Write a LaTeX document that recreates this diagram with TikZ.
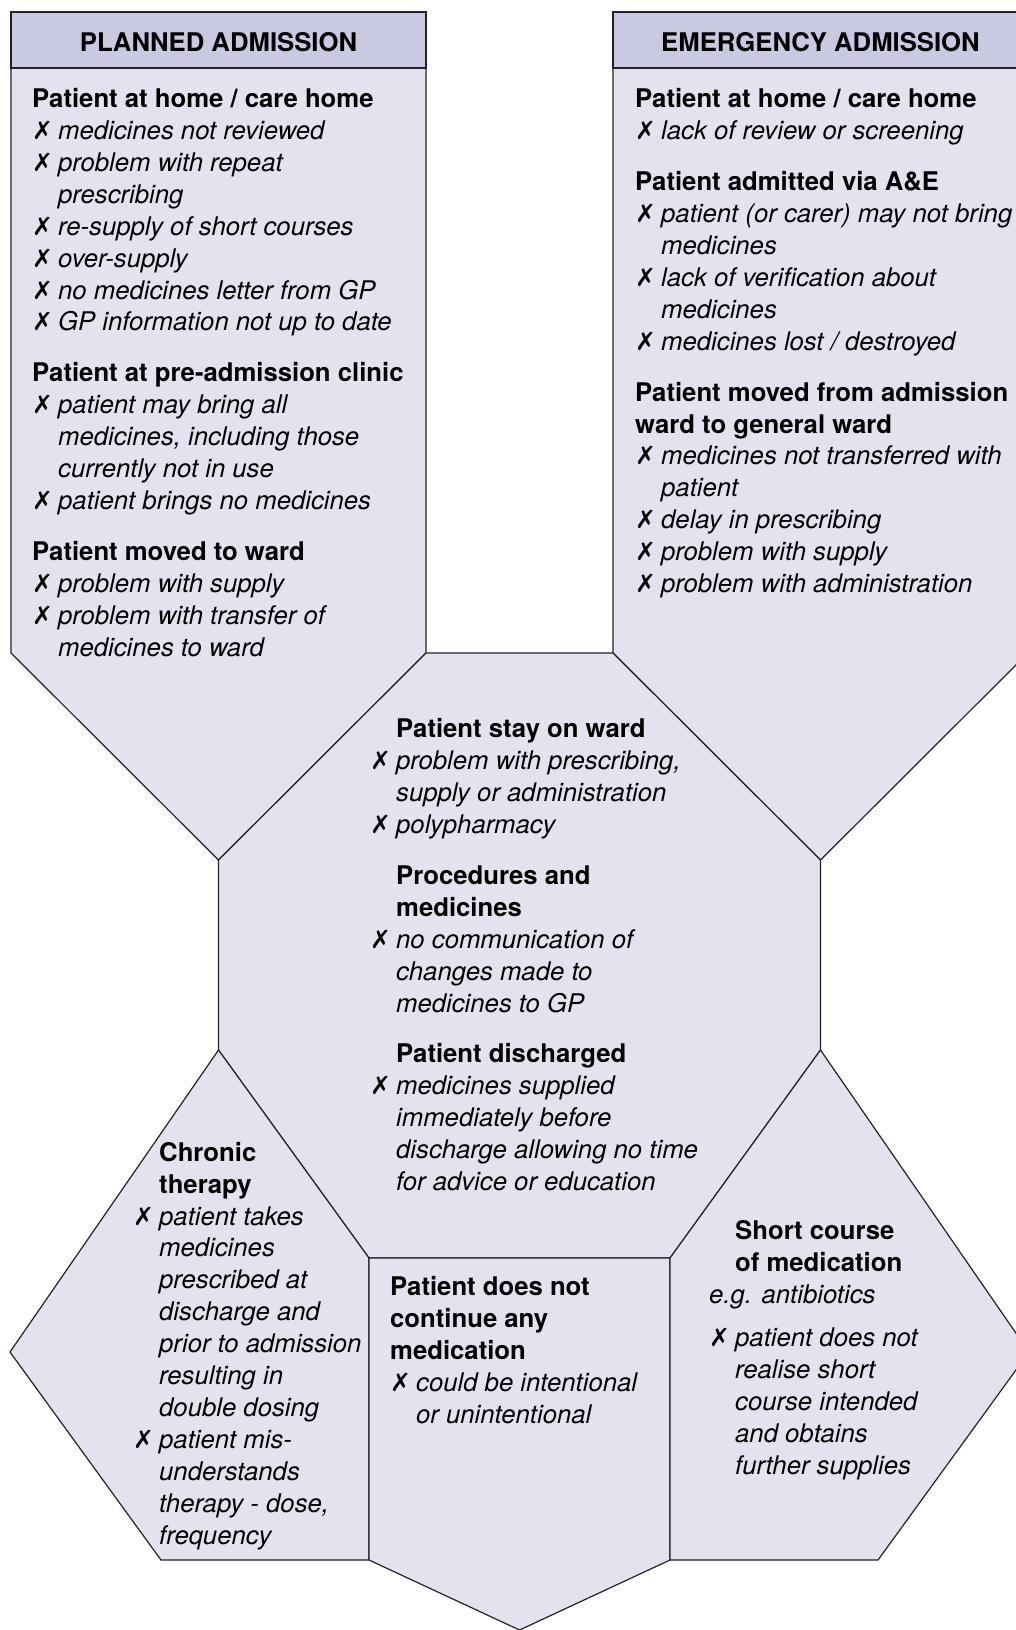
\documentclass[tikz,border=0pt]{standalone}
\usepackage{fontspec}
\setmainfont{TeX Gyre Heros}
\newfontfamily\marksym{DejaVu Sans}
\usetikzlibrary{positioning}

\definecolor{boxfill}{RGB}{227,227,239}
\definecolor{headfill}{RGB}{201,201,226}
\definecolor{edge}{RGB}{35,35,35}

\newcommand\xmk{\makebox[26pt][l]{\marksym\fontsize{25}{25}\selectfont ✗}}
\newcommand\itm[1]{\xmk\textit{#1}}
\newcommand\ctd[1]{\hspace*{26pt}\textit{#1}}
\newcommand\hdg[1]{\textbf{#1}}
\newcommand\ihdg[1]{\hspace*{26pt}\textbf{#1}}

\tikzset{
  shapebox/.style={draw=edge, fill=boxfill, line width=1.2pt, line join=miter},
  headbox/.style={draw=edge, fill=headfill, line width=1.2pt},
  % multi-line nodes: base anchor sits on the last line
  listtxt/.style={align=left, inner sep=0pt, anchor=base west, font=\fontsize{25.7}{31.9}\selectfont},
  headtxt/.style={inner sep=0pt, font=\fontsize{25.7}{31.9}\selectfont\bfseries}
}

\begin{document}
\begin{tikzpicture}[x=1pt,y=-1pt]
\useasboundingbox (0,0) rectangle (1016,1630);
% top boxes
\draw[shapebox] (11,12) -- (426,12) -- (426,653) -- (218.5,860) -- (11,653) -- cycle;
\draw[shapebox] (613,12) -- (1028,12) -- (1028,653) -- (820.5,860) -- (613,653) -- cycle;
\draw[headbox] (11,12) rectangle (426,68);
\draw[headbox] (613,12) rectangle (1028,68);
% centre octagon
\draw[shapebox] (426,653) -- (613,653) -- (820.5,860) -- (820.5,1050) -- (670,1258)
  -- (369,1258) -- (218.5,1050) -- (218.5,860) -- cycle;
% lower pentagons
\draw[shapebox] (218.5,1050) -- (369,1258) -- (369,1560) -- (161,1560) -- (10,1352) -- cycle;
\draw[shapebox] (369,1258) -- (670,1258) -- (670,1560) -- (519.5,1630) -- (369,1560) -- cycle;
\draw[shapebox] (820.5,1050) -- (670,1258) -- (670,1560) -- (878,1560) -- (1029,1352) -- cycle;

\node[headtxt] (plannedhead) at (218.5,42) {PLANNED ADMISSION};
\node[headtxt] (emerghead) at (820.5,42) {EMERGENCY ADMISSION};

\node[listtxt] (plannedlist) at (32,656) {\hdg{Patient at home / care home}\\
  \itm{medicines not reviewed}\\
  \itm{problem with repeat}\\
  \ctd{prescribing}\\
  \itm{re-supply of short courses}\\
  \itm{over-supply}\\
  \itm{no medicines letter from GP}\\
  \itm{GP information not up to date}\\[19pt]
  \hdg{Patient at pre-admission clinic}\\
  \itm{patient may bring all}\\
  \ctd{medicines, including those}\\
  \ctd{currently not in use}\\
  \itm{patient brings no medicines}\\[19pt]
  \hdg{Patient moved to ward}\\
  \itm{problem with supply}\\
  \itm{problem with transfer of}\\
  \ctd{medicines to ward}};

\node[listtxt] (emerglist) at (635,592.5) {\hdg{Patient at home / care home}\\
  \itm{lack of review or screening}\\[19pt]
  \hdg{Patient admitted via A\&E}\\
  \itm{patient (or carer) may not bring}\\
  \ctd{medicines}\\
  \itm{lack of verification about}\\
  \ctd{medicines}\\
  \itm{medicines lost / destroyed}\\[19pt]
  \hdg{Patient moved from admission}\\
  \hdg{ward to general ward}\\
  \itm{medicines not transferred with}\\
  \ctd{patient}\\
  \itm{delay in prescribing}\\
  \itm{problem with supply}\\
  \itm{problem with administration}};

\node[listtxt] (wardlist) at (370,1190.5) {\ihdg{Patient stay on ward}\\
  \itm{problem with prescribing,}\\
  \ctd{supply or administration}\\
  \itm{polypharmacy}\\[19pt]
  \ihdg{Procedures and}\\
  \ihdg{medicines}\\
  \itm{no communication of}\\
  \ctd{changes made to}\\
  \ctd{medicines to GP}\\[19pt]
  \ihdg{Patient discharged}\\
  \itm{medicines supplied}\\
  \ctd{immediately before}\\
  \ctd{discharge allowing no time}\\
  \ctd{for advice or education}};

\node[listtxt] (chroniclist) at (133,1544) {\ihdg{Chronic}\\
  \ihdg{therapy}\\
  \itm{patient takes}\\
  \ctd{medicines}\\
  \ctd{prescribed at}\\
  \ctd{discharge and}\\
  \ctd{prior to admission}\\
  \ctd{resulting in}\\
  \ctd{double dosing}\\
  \itm{patient mis-}\\
  \ctd{understands}\\
  \ctd{therapy - dose,}\\
  \ctd{frequency}};

\node[listtxt] (stoplist) at (390,1423.5) {\hdg{Patient does not}\\
  \hdg{continue any}\\
  \hdg{medication}\\
  \itm{could be intentional}\\
  \ctd{or unintentional}};

\node[listtxt] (shortlist) at (709,1474.5) {\ihdg{Short course}\\
  \ihdg{of medication}\\
  \textit{e.g. antibiotics}\\[12pt]
  \itm{patient does not}\\
  \ctd{realise short}\\
  \ctd{course intended}\\
  \ctd{and obtains}\\
  \ctd{further supplies}};
\end{tikzpicture}
\end{document}
